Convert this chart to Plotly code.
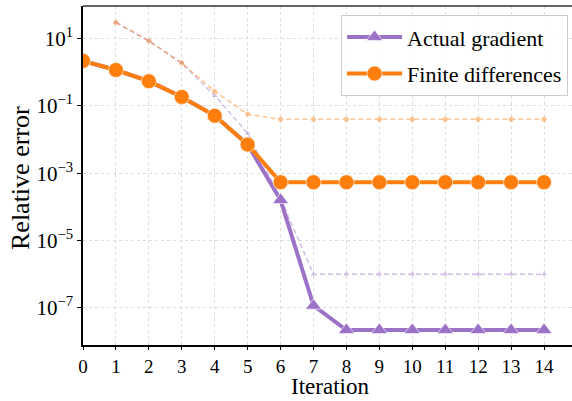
import plotly.graph_objects as go

iterations = list(range(15))
fd_err = [2.17, 1.16, 0.54, 0.184, 0.051, 0.0071, 5.4e-4, 5.4e-4, 5.4e-4, 5.4e-4, 5.4e-4, 5.4e-4, 5.4e-4, 5.4e-4, 5.4e-4]
ag_err = [2.17, 1.16, 0.54, 0.184, 0.051, 0.0071, 1.6e-4, 1.17e-7, 2.2e-8, 2.2e-8, 2.2e-8, 2.2e-8, 2.2e-8, 2.2e-8, 2.2e-8]
dash_iter = list(range(1, 15))
fd_dash = [30, 8.5, 1.86, 0.27, 0.057, 0.040, 0.040, 0.040, 0.040, 0.040, 0.040, 0.040, 0.040, 0.040]
ag_dash = [30, 8.5, 1.86, 0.20, 0.0155, 1.8e-4, 1.0e-6, 1.0e-6, 1.0e-6, 1.0e-6, 1.0e-6, 1.0e-6, 1.0e-6, 1.0e-6]
ytick_exp = [1, -1, -3, -5, -7]

PURPLE = "#9c72c8"
ORANGE = "#ff7f0e"
FONT = "'Liberation Serif', 'DejaVu Serif', serif"

fig = go.Figure()
fig.add_trace(go.Scatter(x=dash_iter, y=ag_dash, mode="lines+markers", showlegend=False,
                         line=dict(color=PURPLE, width=1.5, dash="5px,3px"),
                         marker=dict(symbol="triangle-up", size=5, color=PURPLE),
                         opacity=0.45))
fig.add_trace(go.Scatter(x=dash_iter, y=fd_dash, mode="lines+markers", showlegend=False,
                         line=dict(color=ORANGE, width=1.5, dash="5px,3px"),
                         marker=dict(symbol="circle", size=5, color=ORANGE),
                         opacity=0.45))
fig.add_trace(go.Scatter(x=iterations, y=ag_err, mode="lines+markers", name="Actual gradient",
                         legendgroup="a",
                         line=dict(color=PURPLE, width=4),
                         marker=dict(symbol="triangle-up", size=14, color=PURPLE,
                                     line=dict(color="rgba(255,255,255,0.6)", width=1))))
fig.add_trace(go.Scatter(x=iterations, y=fd_err, mode="lines+markers", name="Finite differences",
                         legendgroup="b",
                         line=dict(color=ORANGE, width=4),
                         marker=dict(symbol="circle", size=15, color=ORANGE,
                                     line=dict(color="rgba(255,255,255,0.6)", width=1))))

fig.update_layout(
    width=572, height=401,
    margin=dict(l=83, r=0, t=6, b=56),
    paper_bgcolor="white", plot_bgcolor="white",
    font=dict(family=FONT, color="black", size=20),
    legend=dict(x=0.992, y=0.973, xanchor="right", yanchor="top",
                bgcolor="rgba(255,255,255,0.85)", bordercolor="#cccccc", borderwidth=1,
                font=dict(family=FONT, size=22), itemwidth=55, tracegroupgap=5,
                traceorder="grouped"),
)
fig.update_xaxes(range=[0, 14.85], tickvals=iterations, ticktext=[str(i) for i in iterations],
                 showgrid=True, gridcolor="#dddddd", griddash="dot", gridwidth=1,
                 showline=True, linecolor="black", linewidth=1.5, mirror=False,
                 ticks="outside", ticklen=3, tickcolor="black",
                 tickfont=dict(size=19, family=FONT), automargin=False,
                 zeroline=False)
fig.update_yaxes(type="log", range=[-8.10, 1.965],
                 tickvals=[10 ** e for e in ytick_exp],
                 ticktext=[f"10<sup>{'−' if e < 0 else ''}{abs(e)}</sup>" for e in ytick_exp],
                 showgrid=True, gridcolor="#dddddd", griddash="dot", gridwidth=1,
                 showline=True, linecolor="black", linewidth=1.5,
                 ticks="outside", ticklen=4, tickcolor="black",
                 tickfont=dict(size=21, family=FONT), automargin=False,
                 zeroline=False)
fig.add_shape(type="line", xref="paper", yref="paper", x0=0, x1=1, y0=1, y1=1,
              line=dict(color="#333333", width=1.5))
fig.add_annotation(text="Iteration", xref="paper", yref="paper", x=(330 - 83) / 489, y=-(401 - 345) / 339,
                   xanchor="center", yanchor="bottom", showarrow=False,
                   font=dict(size=23, family=FONT))
fig.add_annotation(text="Relative error", xref="paper", yref="paper", x=-(83 - 20) / 489, y=(345 - 178) / 339,
                   xanchor="center", yanchor="middle", showarrow=False, textangle=-90,
                   font=dict(size=26, family=FONT))

fig.write_html("out.html")
